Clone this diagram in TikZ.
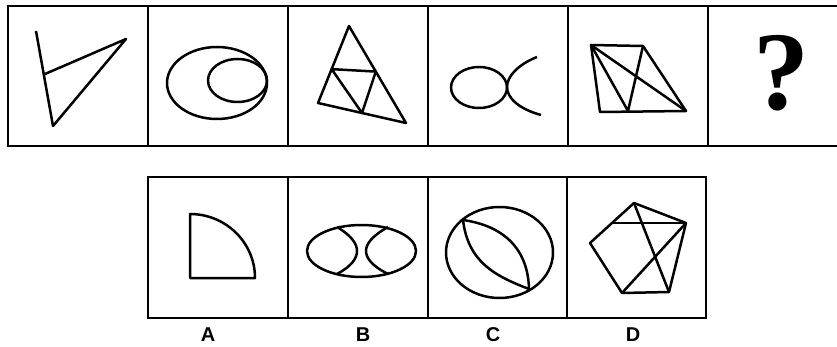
\documentclass[tikz,border=0pt]{standalone}
\usepackage{fontspec}
\usetikzlibrary{calc}
\setmainfont{Liberation Serif}
\newfontfamily\labfont{Liberation Sans}
\begin{document}
\begin{tikzpicture}[x=1pt,y=-1pt,
  frame/.style={line width=2.6pt},
  fig/.style={line width=2.5pt, line join=round},
  lab/.style={font=\labfont\bfseries\fontsize{20}{20}\selectfont, inner sep=0pt}]
\useasboundingbox (0,0) rectangle (837,347);
% top frame
\draw[frame] (837,6) -- (8,6) -- (8,146) -- (837,146);
\foreach \x in {148,288,428,568,708} \draw[frame] (\x,6) -- (\x,146);
% bottom frame
\draw[frame] (148,177) rectangle (706,318);
\foreach \x in {288,428,567} \draw[frame] (\x,177) -- (\x,318);
% panel 1
\draw[fig] (36,31) -- (53,126) -- (126,39) -- (45,74);
% panel 2
\draw[fig] (217,83) ellipse [x radius=50, y radius=36];
\draw[fig] (237.5,80.5) ellipse [x radius=29.5, y radius=21.5];
% panel 3
\coordinate (t1) at (349,26);
\coordinate (t2) at (318,103);
\coordinate (t3) at (406,123);
\coordinate (m12) at ($(t1)!0.56!(t2)$);
\coordinate (m13) at ($(t1)!0.47!(t3)$);
\coordinate (m23) at ($(t2)!0.5!(t3)$);
\draw[fig] (t1) -- (t2) -- (t3) -- cycle;
\draw[fig] (m12) -- (m13) -- (m23) -- cycle;
% panel 4
\draw[fig] (479,87.5) ellipse [x radius=28, y radius=20.5];
\draw[fig] (537,57) .. controls (517,65) and (507,77) .. (507,87) .. controls (507,98) and (519,109) .. (541,115);
% panel 5
\coordinate (q1) at (591,45);
\coordinate (q2) at (643,46);
\coordinate (q3) at (686,111);
\coordinate (q4) at (600,112);
\coordinate (q5) at (628,111);
\draw[fig] (q1) -- (q2) -- (q3) -- (q4) -- cycle;
\draw[fig] (q1) -- (q3);
\draw[fig] (q1) -- (q5) -- (q2);
% question mark
\node[font=\bfseries\fontsize{112}{112}\selectfont, inner sep=0pt, anchor=base] (qm) at (781,110) {?};
% A
\draw[fig] (190,214) -- (190,278) -- (255,278) arc[start angle=0, end angle=-90, x radius=65, y radius=64] -- cycle;
% B
\draw[fig] (361.5,251) ellipse [x radius=54.5, y radius=26];
\draw[fig] (337,227) .. controls (352,236) and (357,244) .. (357,251) .. controls (357,258) and (352,266) .. (337,274);
\draw[fig] (388,227) .. controls (372,236) and (366,244) .. (366,251) .. controls (366,258) and (372,266) .. (388,274);
% C
\draw[fig] (499.5,252.5) ellipse [x radius=53.5, y radius=45.5];
\coordinate (c1) at (463,220);
\coordinate (c2) at (529,289);
\draw[fig] (c1) .. controls (468,262) and (495,276) .. (c2);
\draw[fig] (c1) .. controls (505,226) and (528,250) .. (c2);
% D
\coordinate (p1) at (634,203);
\coordinate (p2) at (686,223);
\coordinate (p3) at (669,292);
\coordinate (p4) at (622,293);
\coordinate (p5) at (590,243);
\draw[fig] (p1) -- (p2) -- (p3) -- (p4) -- (p5) -- cycle;
\draw[fig] ($(p5)!0.5!(p1)$) -- (p2);
\draw[fig] (p1) -- (p3);
\draw[fig] (p2) -- (p4);
% labels
\node[lab] (la) at (208,335) {A};
\node[lab] (lb) at (363,335) {B};
\node[lab] (lc) at (493,335) {C};
\node[lab] (ld) at (633,335) {D};
\end{tikzpicture}
\end{document}
